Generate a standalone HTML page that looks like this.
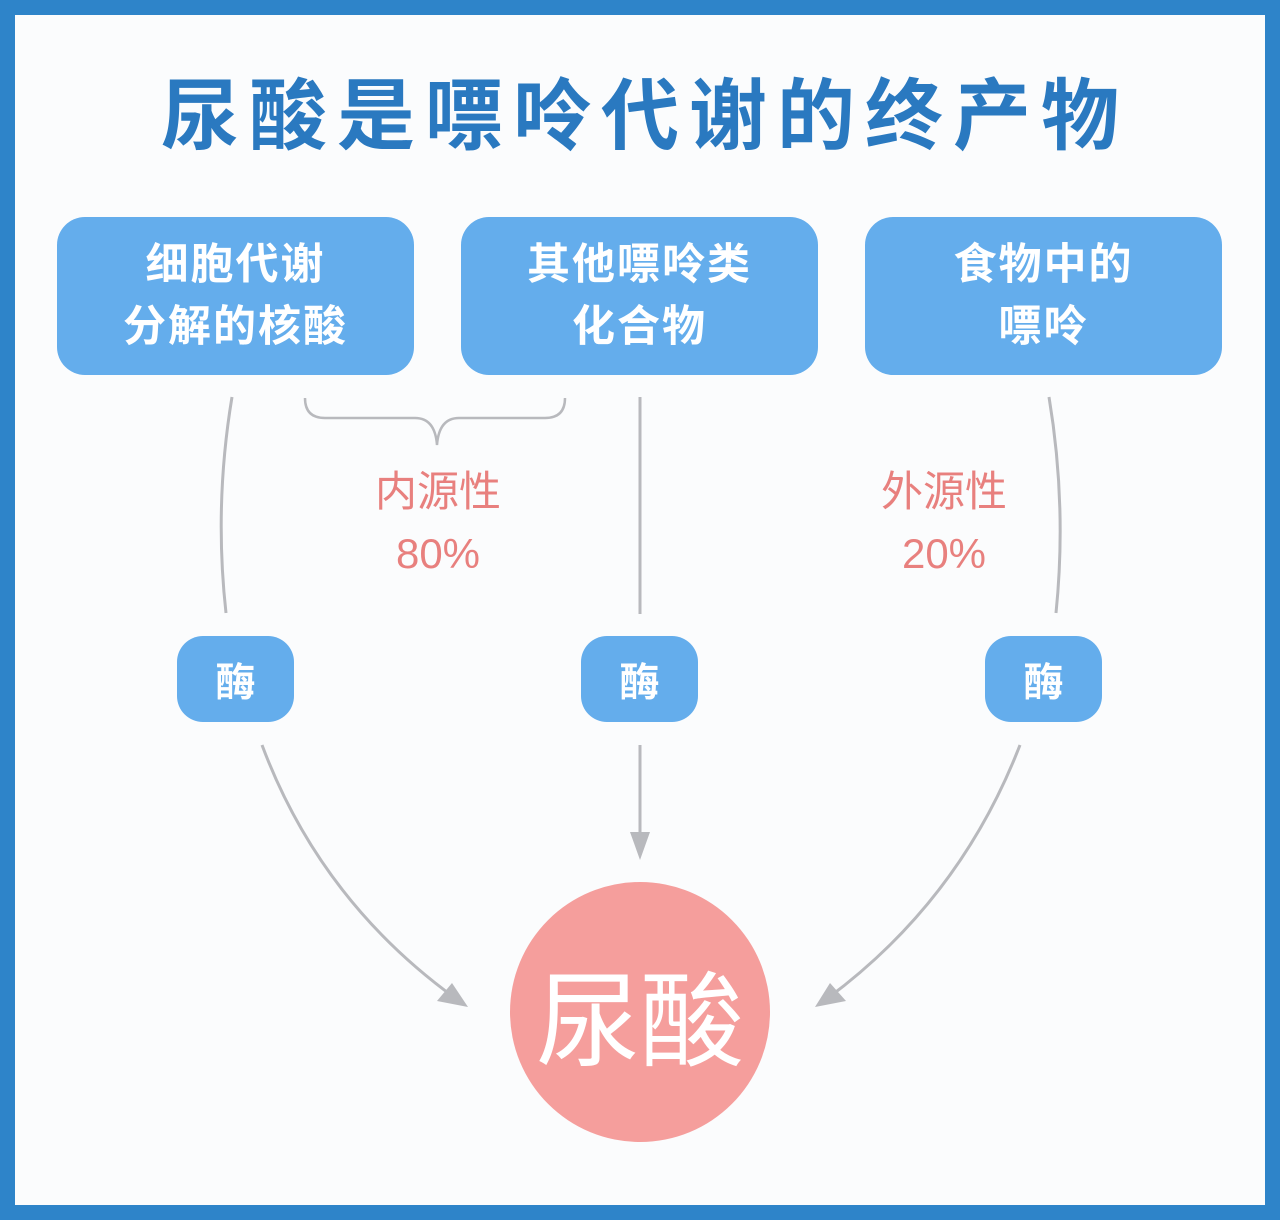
<!DOCTYPE html>
<html><head><meta charset="utf-8"><style>
html,body{margin:0;padding:0}
body{width:1280px;height:1220px;position:relative;background:#2e84c9;font-family:"Liberation Sans","Noto Sans CJK SC",sans-serif;overflow:hidden}
.inner{position:absolute;left:15px;top:15px;width:1250px;height:1190px;background:#fbfcfd}
.t{position:absolute;left:0;width:1280px;text-align:center;top:68px;font-size:78px;font-weight:bold;color:#2a79c0;letter-spacing:10px;text-indent:10px;line-height:96px}
.box{position:absolute;top:217px;width:357px;height:158px;border-radius:28px;background:#64adec;color:#fff;font-size:43px;font-weight:bold;text-align:center;display:flex;align-items:center;justify-content:center;line-height:62px;letter-spacing:2px}
.enz{position:absolute;top:636px;width:117px;height:86px;border-radius:26px;background:#64adec;color:#fff;font-size:40px;font-weight:bold;display:flex;align-items:center;justify-content:center}
.red{position:absolute;color:#e8807e;font-size:42px;text-align:center;width:200px;line-height:62px}
.c{position:absolute;left:510px;top:882px;width:260px;height:260px;border-radius:50%;background:#f59e9c;color:#fff;font-size:104px;display:flex;align-items:center;justify-content:center;letter-spacing:0px}
svg{position:absolute;left:0;top:0}
</style></head><body>
<div class="inner"></div>
<div class="t">尿酸是嘌呤代谢的终产物</div>
<div class="box" style="left:57px">细胞代谢<br>分解的核酸</div>
<div class="box" style="left:461px">其他嘌呤类<br>化合物</div>
<div class="box" style="left:865px">食物中的<br>嘌呤</div>
<svg width="1280" height="1220" fill="none" stroke="#b8b9bd" stroke-width="3">
<path d="M232 397 Q214 505 226 613"/>
<path d="M640 397 V614"/>
<path d="M1049 397 Q1067 505 1056 613"/>
<path d="M305 398 Q305 418 325 418 H415 Q435 418 437 445 Q439 418 459 418 H545 Q565 418 565 398" stroke-width="2.5"/>
<path d="M262 745 Q320 900 455 998"/>
<path d="M640 745 V845"/>
<path d="M1020 745 Q960 900 828 998"/>
<g fill="#b8b9bd" stroke="none">
<polygon points="468,1007 437,1001 452,983"/>
<polygon points="640,860 630,832 650,832"/>
<polygon points="815,1007 830,983 846,1001"/>
</g>
</svg>
<div class="red" style="left:338px;top:461px">内源性<br>80%</div>
<div class="red" style="left:844px;top:461px">外源性<br>20%</div>
<div class="enz" style="left:177px">酶</div>
<div class="enz" style="left:581px">酶</div>
<div class="enz" style="left:985px">酶</div>
<div class="c">尿酸</div>
</body></html>
